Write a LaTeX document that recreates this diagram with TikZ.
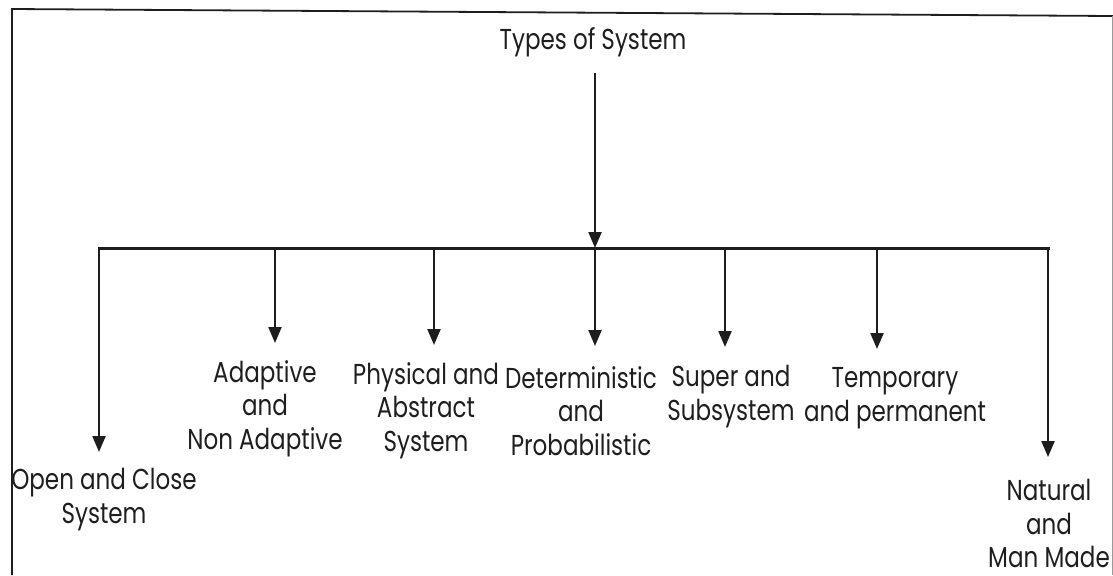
\documentclass[tikz,border=0pt]{standalone}
\usepackage{fontspec}
\setmainfont{Poppins}[FakeStretch=0.8]
\usetikzlibrary{arrows.meta}
\definecolor{ink}{HTML}{1E1E1E}
\begin{document}
\begin{tikzpicture}[x=0.5pt,y=-0.5pt,
  link/.style={draw=ink,line width=1.1pt},
  arr/.style={link,-{Triangle[length=8pt,width=6.5pt]}},
  lbl/.style={font=\fontsize{14.4}{16.8}\selectfont,text=ink,align=center,inner sep=0pt,anchor=north}]
\useasboundingbox (0,0) rectangle (1113,575);
\fill[white] (0,0) rectangle (1113,575);

% page frame
\draw[draw=ink,line width=0.9pt] (12,575) -- (12,9) -- (1113,16);
\draw[draw=ink!45,line width=0.5pt] (1112,16) -- (1112,575);

% root
\node[lbl,anchor=center] (title) at (593,42) {Types of System};
\coordinate (hub) at (595,248);
\draw[arr,shorten <=8pt] (title.south -| hub) -- (hub);

% distribution bar and its junctions
\foreach \n/\x in {1/99,2/275,3/434,4/595,5/725,6/877,7/1048}
  \coordinate (j\n) at (\x,248);
\draw[link,line width=1.5pt,line cap=rect] (j1) -- (j7);

% arrow tips
\coordinate (t1) at (99,452);
\coordinate (t2) at (275,343);
\coordinate (t3) at (434,345);
\coordinate (t4) at (595,346);
\coordinate (t5) at (725,347);
\coordinate (t6) at (877,349);
\coordinate (t7) at (1048,457);
\foreach \n in {1,...,7}
  \draw[arr] (j\n) -- (t\n);

% categories
\node[lbl] (open)  at (104,468)  {Open and Close\\System};
\node[lbl] (adapt) at (265,360)  {Adaptive\\and\\Non Adaptive};
\node[lbl] (phys)  at (426,362)  {Physical and\\Abstract\\System};
\node[lbl] (det)   at (581,366)  {Deterministic\\and\\Probabilistic};
\node[lbl] (sup)   at (731,365)  {Super and\\Subsystem};
\node[lbl] (temp)  at (895,367)  {Temporary\\and permanent};
\node[lbl] (nat)   at (1049,479) {Natural\\and\\Man Made};
\end{tikzpicture}
\end{document}
